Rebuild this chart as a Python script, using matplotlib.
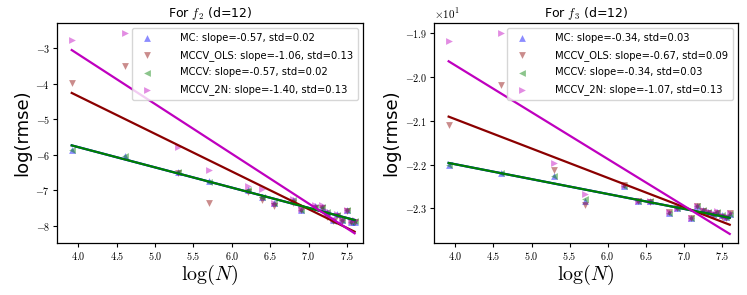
import numpy as np
import matplotlib
matplotlib.use("Agg")
import matplotlib.pyplot as plt
from matplotlib.ticker import FuncFormatter

plt.rcParams['mathtext.fontset'] = 'cm'
plt.rcParams['font.family'] = ['DejaVu Sans']

# sample sizes and log(N)
N = np.array([50, 100, 200, 300, 500, 600, 700, 900, 1000, 1200, 1300, 1400,
              1500, 1600, 1700, 1800, 1900, 2000])
logN = np.log(N)

# ---- panel f2 : log(rmse) ----
f2_mc = [-5.88, -6.04, -6.50, -6.75, -7.00, -7.20, -7.37, -7.28, -7.55, -7.46,
         -7.47, -7.62, -7.85, -7.68, -7.85, -7.56, -7.89, -7.89]
f2_ols = [-3.98, -3.49, -6.52, -7.35, -7.05, -7.28, -7.45, -7.35, -7.55, -7.50,
          -7.50, -7.75, -7.88, -7.72, -7.87, -7.58, -7.90, -7.90]
f2_mccv = [-5.87, -6.05, -6.50, -6.77, -7.00, -7.19, -7.37, -7.29, -7.55, -7.47,
           -7.47, -7.63, -7.86, -7.69, -7.85, -7.57, -7.89, -7.88]
f2_2n = [-2.77, -2.58, -5.78, -6.42, -6.89, -6.98, -7.35, -7.25, -7.52, -7.43,
         -7.42, -7.60, -7.82, -7.66, -7.83, -7.55, -7.86, -7.85]
# fitted lines (intercept, slope)
f2_fit_mc = (-3.51, -0.57)
f2_fit_ols = (-0.115, -1.06)
f2_fit_mccv = (-3.51, -0.57)
f2_fit_2n = (2.424, -1.40)
f2_std = [0.02, 0.13, 0.02, 0.13]

# ---- panel f3 : log(rmse) ----
f3_mc = [-22.01, -22.19, -22.26, -22.82, -22.48, -22.83, -22.84, -23.10, -23.00,
         -23.22, -22.95, -23.04, -23.08, -23.12, -23.08, -23.16, -23.20, -23.12]
f3_ols = [-21.09, -20.18, -22.13, -22.93, -22.46, -22.83, -22.86, -23.08, -23.00,
          -23.22, -22.94, -23.05, -23.10, -23.14, -23.10, -23.20, -23.22, -23.10]
f3_mccv = [-22.01, -22.19, -22.25, -22.79, -22.48, -22.83, -22.84, -23.10, -23.00,
           -23.22, -22.95, -23.04, -23.08, -23.12, -23.08, -23.16, -23.20, -23.12]
f3_2n = [-19.17, -18.99, -21.96, -22.66, -22.47, -22.82, -22.84, -23.09, -23.00,
         -23.21, -22.94, -23.03, -23.07, -23.11, -23.07, -23.15, -23.19, -23.11]
f3_fit_mc = (-20.63, -0.34)
f3_fit_ols = (-18.28, -0.67)
f3_fit_mccv = (-20.63, -0.34)
f3_fit_2n = (-15.45, -1.07)
f3_std = [0.03, 0.09, 0.03, 0.13]

names = ['MC', 'MCCV_OLS', 'MCCV', 'MCCV_2N']
markers = ['^', 'v', '<', '>']
mcolors = ['blue', 'darkred', 'green', 'm']
lcolors = ['blue', 'darkred', 'green', 'm']

fig = plt.figure(figsize=(7.47, 2.95), dpi=100)
ax1 = fig.add_axes([0.0763, 0.1763, 0.4096, 0.7458])
ax2 = fig.add_axes([0.581, 0.1763, 0.407, 0.7458])

def draw(ax, series, fits, stds, title, scale):
    xl = np.array([logN.min(), logN.max()])
    handles = []
    for i, (ys, (a, b)) in enumerate(zip(series, fits)):
        h = ax.scatter(logN, ys, marker=markers[i], color=mcolors[i], alpha=0.45,
                       s=24, linewidths=0,
                       label=f'{names[i]}: slope={b:.2f}, std={stds[i]:.2f}')
        handles.append(h)
    for i in range(4):
        a, b = fits[i]
        ax.plot(xl, a + b * xl, color=lcolors[i], lw=1.6)
    ax.set_xlim(3.72, 7.71)
    ax.set_title(title, fontsize=9, pad=4)
    ax.set_xlabel(r'$\log(N)$', fontsize=14.5, labelpad=1)
    ax.set_ylabel('log(rmse)', fontsize=13, labelpad=3)
    ax.set_xticks([4.0, 4.5, 5.0, 5.5, 6.0, 6.5, 7.0, 7.5])
    ax.xaxis.set_major_formatter(FuncFormatter(lambda v, p: f'${v:.1f}$'))
    if scale == 1:
        ax.yaxis.set_major_formatter(FuncFormatter(lambda v, p: f'${v:.0f}$'))
    else:
        ax.yaxis.set_major_formatter(FuncFormatter(lambda v, p: f'${v/scale:.1f}$'))
    ax.tick_params(labelsize=7.3, length=3, width=0.8, pad=2)
    for s in ax.spines.values():
        s.set_linewidth(0.9)
    leg = ax.legend(handles=handles, loc='upper right', fontsize=7.2,
                    handletextpad=2.3, labelspacing=0.68, borderpad=0.5,
                    framealpha=0.8, scatterpoints=1)
    return leg

draw(ax1, [f2_mc, f2_ols, f2_mccv, f2_2n],
     [f2_fit_mc, f2_fit_ols, f2_fit_mccv, f2_fit_2n], f2_std,
     r'For $f_2$ (d=12)', 1)
ax1.set_ylim(-8.49, -2.29)
ax1.set_yticks([-8, -7, -6, -5, -4, -3])

draw(ax2, [f3_mc, f3_ols, f3_mccv, f3_2n],
     [f3_fit_mc, f3_fit_ols, f3_fit_mccv, f3_fit_2n], f3_std,
     r'For $f_3$ (d=12)', 10)
ax2.set_ylim(-23.79, -18.76)
ax2.set_yticks([-23, -22, -21, -20, -19])
ax2.text(0.0, 1.01, r'$\times 10^{1}$', transform=ax2.transAxes,
         ha='left', va='bottom', fontsize=8)

fig.savefig('out.png', dpi=100)
